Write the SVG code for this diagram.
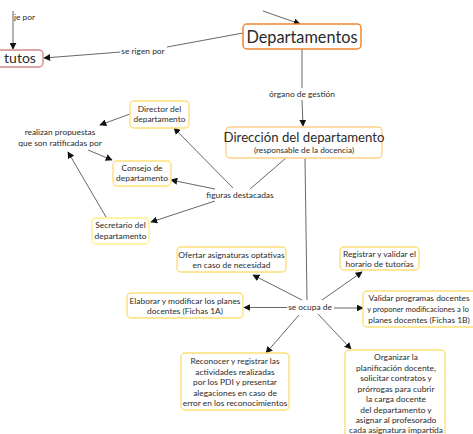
<svg xmlns="http://www.w3.org/2000/svg" width="473" height="434" viewBox="0 0 473 434">
<defs>
<marker id="ah" viewBox="0 0 10 10" refX="9" refY="5" markerWidth="7" markerHeight="7" markerUnits="userSpaceOnUse" orient="auto">
<path d="M0,0 L10,5 L0,10 z" fill="#111"/>
</marker>
<style>
text{font-family:Lato,"Open Sans","Liberation Sans",sans-serif;fill:#2b2b2b;text-anchor:middle}
.s{font-size:8.4px}
.l{font-size:8.4px;stroke:#fff;stroke-width:3px;paint-order:stroke;stroke-linejoin:round}
.big{font-size:16.3px}
.mid{font-size:13.2px}
.sub{font-size:8.2px}
.n{fill:#fff;stroke:#ffdf7a;stroke-width:1.4}
.c{fill:none;stroke:#555;stroke-width:0.9}
.a{marker-end:url(#ah)}
</style>
</defs>
<rect width="473" height="434" fill="#fff"/>
<g id="connectors">
<line class="c a" x1="263" y1="11" x2="300" y2="24"/>
<line class="c a" x1="13" y1="11" x2="13" y2="49"/>
<line class="c" x1="243" y1="33" x2="167" y2="47"/>
<line class="c a" x1="121" y1="52" x2="44" y2="58"/>
<line class="c" x1="302" y1="49" x2="302" y2="88"/>
<line class="c a" x1="302" y1="100" x2="303" y2="126"/>
<line class="c a" x1="130" y1="114" x2="100" y2="125"/>
<line class="c a" x1="88" y1="150" x2="112" y2="160"/>
<line class="c a" x1="106" y1="217" x2="68" y2="152"/>
<line class="c" x1="286" y1="158" x2="250" y2="189"/>
<line class="c a" x1="233" y1="188" x2="174" y2="128"/>
<line class="c a" x1="215" y1="189" x2="171" y2="180"/>
<line class="c a" x1="215" y1="201" x2="151" y2="222"/>
<line class="c" x1="305" y1="158" x2="307" y2="300"/>
<line class="c a" x1="302" y1="300" x2="253" y2="275"/>
<line class="c a" x1="288" y1="307.5" x2="244" y2="307.5"/>
<line class="c a" x1="322" y1="300" x2="362" y2="272"/>
<line class="c a" x1="334" y1="308" x2="363" y2="308"/>
<line class="c a" x1="299" y1="315" x2="266" y2="353"/>
<line class="c a" x1="318" y1="314" x2="351" y2="349"/>
<text class="s" x="14" y="20" style="text-anchor:start">je por</text>
<text class="l" x="143" y="54">se rigen por</text>
<text class="l" x="302" y="97">órgano de gestión</text>
<text class="l" x="60" y="135">realizan propuestas</text>
<text class="l" x="60" y="146">que son ratificadas por</text>
<text class="l" x="240" y="198">figuras destacadas</text>
<text class="l" x="310" y="310">se ocupa de</text>
</g>
<g id="estatutos">
<rect x="-10" y="50" width="53" height="17" rx="4" fill="#fff" stroke="#d48a8a" stroke-width="1.4"/>
<text x="20" y="63" style="font-size:14px">tutos</text>
</g>
<g id="departamentos">
<rect x="243" y="24" width="118" height="25" rx="4" fill="#fff" stroke="#f0852f" stroke-width="1.5"/>
<text class="big" x="302" y="42.5">Departamentos</text>
</g>
<g id="direccion">
<rect x="226" y="127" width="156" height="31" rx="4" fill="#fff" stroke="#ffd08a" stroke-width="1.4"/>
<text class="mid" x="304" y="141.5">Dirección del departamento</text>
<text class="sub" x="304" y="152.5">(responsable de la docencia)</text>
</g>
<g id="director">
<rect class="n" x="130" y="101" width="59" height="27" rx="4"/>
<text class="s" x="159.5" y="112">Director del</text>
<text class="s" x="159.5" y="122">departamento</text>
</g>
<g id="consejo">
<rect class="n" x="113" y="161" width="58" height="25" rx="4"/>
<text class="s" x="142" y="171">Consejo de</text>
<text class="s" x="142" y="181">departamento</text>
</g>
<g id="secretario">
<rect class="n" x="92" y="218" width="57" height="26" rx="4" style="stroke:#fff08a"/>
<text class="s" x="120.5" y="228">Secretario del</text>
<text class="s" x="120.5" y="239">departamento</text>
</g>
<g id="ofertar">
<rect class="n" x="177" y="247" width="109" height="25" rx="4"/>
<text class="s" x="231.5" y="258">Ofertar asignaturas optativas</text>
<text class="s" x="231.5" y="268">en caso de necesidad</text>
</g>
<g id="elaborar">
<rect class="n" x="127" y="293" width="116" height="25" rx="4"/>
<text class="s" x="185" y="304">Elaborar y modificar los planes</text>
<text class="s" x="185" y="314">docentes (Fichas 1A)</text>
</g>
<g id="registrar">
<rect class="n" x="340" y="247" width="79" height="23" rx="4"/>
<text class="s" x="379.5" y="257">Registrar y validar el</text>
<text class="s" x="379.5" y="267">horario de tutorías</text>
</g>
<g id="validar">
<rect class="n" x="363" y="291" width="122" height="36" rx="4"/>
<text class="s" x="419" y="301">Validar programas docentes</text>
<text x="418" y="312" style="font-size:7.6px">y proponer modificaciones a lo</text>
<text class="s" x="419" y="323">planes docentes (Fichas 1B)</text>
</g>
<g id="reconocer">
<rect class="n" x="181" y="353" width="108" height="57" rx="4"/>
<text class="s" x="235" y="364">Reconocer y registrar las</text>
<text class="s" x="235" y="375">actividades realizadas</text>
<text class="s" x="235" y="385">por los PDI y presentar</text>
<text class="s" x="235" y="396">alegaciones en caso de</text>
<text class="s" x="235" y="406">error en los reconocimientos</text>
</g>
<g id="organizar">
<rect class="n" x="345" y="350" width="100" height="95" rx="4"/>
<text class="s" x="396" y="360">Organizar la</text>
<text class="s" x="396" y="370.5">planificación docente,</text>
<text class="s" x="396" y="381">solicitar contratos y</text>
<text class="s" x="396" y="391.5">prórrogas para cubrir</text>
<text class="s" x="396" y="402">la carga docente</text>
<text class="s" x="396" y="412.5">del departamento y</text>
<text class="s" x="396" y="423">asignar al profesorado</text>
<text class="s" x="396" y="433">cada asignatura impartida</text>
</g>
</svg>
